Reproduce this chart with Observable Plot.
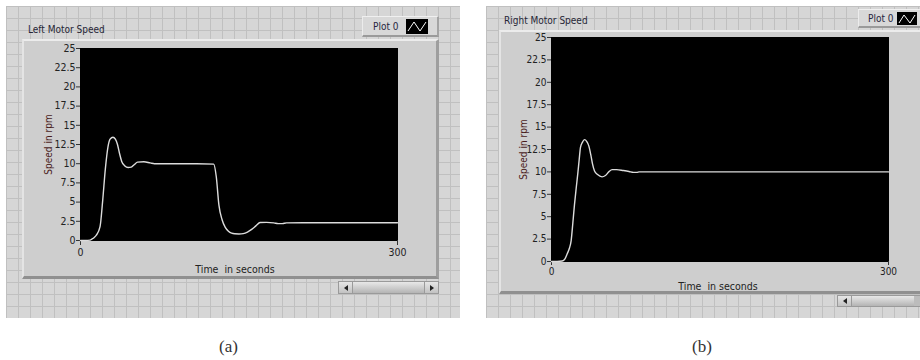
<!DOCTYPE html>
<html>
<head>
<meta charset="utf-8">
<script src="https://cdn.jsdelivr.net/npm/d3@7"></script>
<script src="https://cdn.jsdelivr.net/npm/@observablehq/plot@0.6"></script>
<style>
  html, body { margin: 0; padding: 0; background: #fff; }
  #root { position: relative; width: 920px; height: 360px; overflow: hidden;
          font-family: "DejaVu Sans Condensed", "Liberation Sans", sans-serif; }
  .grid { position: absolute; background-color: #d6d6d6;
          background-image: linear-gradient(to right, #c0c0c0 1px, transparent 1px),
                            linear-gradient(to bottom, #c0c0c0 1px, transparent 1px);
          background-size: 12px 12px; }
  .panel { position: absolute; box-sizing: border-box; background: #cecece;
           border-top: 2px solid #ececec; border-left: 2px solid #e4e4e4;
           border-bottom: 3px solid #909090; border-right: 3px solid #9e9e9e; }
  .title { position: absolute; font-size: 10px; color: #262636; white-space: nowrap; line-height: 1; }
  .legend { position: absolute; box-sizing: border-box; background: #d8d8d8;
            border-top: 1px solid #f0f0f0; border-left: 1px solid #ececec;
            border-bottom: 2px solid #9a9a9a; border-right: 2px solid #a4a4a4; }
  .legend span { position: absolute; font-size: 10px; color: #262640; line-height: 1; white-space: nowrap; }
  .legend svg { position: absolute; }
  .scroll { position: absolute; box-sizing: border-box; background: #bcbcbc; border: 1px solid #9a9a9a; }
  .scroll .btn { position: absolute; top: 0; bottom: 0; width: 13px; background: linear-gradient(#e6e6e6, #c2c2c2);
                 border-right: 1px solid #9a9a9a; }
  .scroll .btn.r { right: 0; border-right: none; border-left: 1px solid #9a9a9a; }
  .scroll .thumb { position: absolute; top: 0; bottom: 0; background: linear-gradient(#e8e8e8, #b4b4b4); }
  .tri { position: absolute; top: 50%; left: 50%; width: 0; height: 0; margin-top: -3px; border-top: 3px solid transparent; border-bottom: 3px solid transparent; }
  .tri.l { border-right: 4px solid #222; margin-left: -2px; }
  .tri.r { border-left: 4px solid #222; margin-left: -2px; }
  .cap { position: absolute; font-family: "Liberation Serif", "DejaVu Serif", serif; font-size: 17px; color: #333; line-height: 1; }
  .plot { position: absolute; }
</style>
</head>
<body>
<div id="root">
  <!-- left panel chrome -->
  <div class="grid" style="left:6px;top:6px;width:454px;height:312px;"></div>
  <div class="panel" style="left:22px;top:39px;width:417px;height:240px;"></div>
  <div class="title" style="left:28px;top:25px;">Left Motor Speed</div>
  <div class="legend" style="left:362px;top:16px;width:77px;height:21px;">
    <span style="left:10px;top:5px;">Plot 0</span>
    <svg style="left:43px;top:2px;" width="22" height="15"><rect width="22" height="15" fill="#000"/><path d="M2,12 L8,3 L14,12 L20,3" stroke="#fff" fill="none" stroke-width="1"/></svg>
  </div>
  <div class="scroll" style="left:338px;top:281px;width:101px;height:13px;">
    <div class="btn" style="left:0"><div class="tri l"></div></div>
    <div class="thumb" style="left:14px;width:73px;"></div>
    <div class="btn r"><div class="tri r"></div></div>
  </div>
  <div class="cap" style="left:219px;top:338px;">(a)</div>

  <!-- right panel chrome -->
  <div class="grid" style="left:486px;top:6px;width:434px;height:312px;"></div>
  <div class="panel" style="left:499px;top:30px;width:424px;height:264px;"></div>
  <div class="title" style="left:504px;top:16px;">Right Motor Speed</div>
  <div class="legend" style="left:858px;top:9px;width:66px;height:19px;">
    <span style="left:9px;top:4px;">Plot 0</span>
    <svg style="left:38px;top:2px;" width="20" height="13"><rect width="20" height="13" fill="#000"/><path d="M2,11 L7,3 L13,11 L18,3" stroke="#fff" fill="none" stroke-width="1"/></svg>
  </div>
  <div class="scroll" style="left:837px;top:295px;width:90px;height:12px;">
    <div class="btn" style="left:0"><div class="tri l"></div></div>
    <div class="thumb" style="left:14px;width:62px;"></div>
  </div>
  <div class="cap" style="left:692px;top:338px;">(b)</div>

  <div id="plotL" class="plot" style="left:22px;top:39px;"></div>
  <div id="plotR" class="plot" style="left:499px;top:30px;"></div>
</div>

<script>
// ---- data ----
const leftTime  = [0, 5, 9, 11, 13, 15, 18.5, 21, 23.5, 26, 28, 30.7, 33, 35, 37, 39, 42, 45, 48, 51, 54, 60, 66, 70, 90, 110, 126, 128.5, 131, 134, 137, 140, 143, 146, 150, 154, 158, 162, 166, 170, 176, 183, 187, 191, 195, 220, 260, 300];
const leftSpeed = [0, 0, 0.05, 0.2, 0.4, 0.7, 1.8, 5.2, 9.3, 12.2, 13.2, 13.45, 13.2, 12.5, 11.3, 10.3, 9.7, 9.5, 9.55, 9.9, 10.2, 10.25, 10.1, 10.0, 10.0, 10.0, 9.95, 8.3, 4.6, 2.7, 1.7, 1.2, 0.95, 0.87, 0.85, 0.9, 1.1, 1.45, 1.9, 2.34, 2.36, 2.3, 2.2, 2.2, 2.3, 2.32, 2.32, 2.32];

const rightTime  = [0, 5, 9.5, 12, 14, 16, 17.5, 19, 20.5, 22, 23.4, 24.6, 25.8, 27.5, 29.4, 31.3, 33.2, 35, 36.5, 38.3, 41, 45, 48, 51, 54, 58, 64, 69, 73, 76, 78, 90, 150, 220, 300];
const rightSpeed = [0, 0, 0.05, 0.3, 0.86, 1.5, 2.34, 4.3, 6.4, 8.2, 9.8, 11.3, 12.75, 13.3, 13.6, 13.4, 12.9, 11.9, 10.9, 10.1, 9.7, 9.45, 9.6, 10.0, 10.25, 10.25, 10.15, 10.05, 9.95, 9.95, 10.0, 10.0, 10.0, 10.0, 10.0];

const yTicks = [0, 2.5, 5, 7.5, 10, 12.5, 15, 17.5, 20, 22.5, 25];
const xTicks = [0, 300];
const xLabel = "Time\u00a0 in seconds";
const yLabel = "Speed in rpm";

const FONT = '"DejaVu Sans Condensed", "Liberation Sans", sans-serif';

function makePlot(time, speed, o) {
  const data = time.map((t, i) => ({t, v: speed[i]}));
  return Plot.plot({
    width: o.width, height: o.height,
    marginLeft: o.ml, marginRight: o.mr, marginTop: o.mt, marginBottom: o.mb,
    style: {background: "transparent", color: "#222", fontFamily: FONT, fontSize: o.fs + "px", overflow: "visible"},
    x: {domain: [0, 300]},
    y: {domain: [0, 25]},
    marks: [
      Plot.frame({fill: "#000", stroke: "#000"}),
      Plot.axisY({ticks: yTicks, tickSize: 4, tickPadding: 1, label: null, tickFormat: d => String(d), stroke: "#333"}),
      Plot.axisX({ticks: xTicks, tickSize: o.xts, tickPadding: o.xtp, label: null, tickFormat: d => String(d), stroke: "#333"}),
      Plot.line(data, {x: "t", y: "v", stroke: "#dcdcdc", strokeWidth: 1.4, curve: "monotone-x"}),
      Plot.text([xLabel], {text: d => d, frameAnchor: "bottom", dy: o.xldy, dx: o.xldx, fill: "#222", fontSize: 10.5}),
      Plot.text([yLabel], {text: d => d, frameAnchor: "left", textAnchor: "middle", lineAnchor: "middle", dx: o.yldx, rotate: -90, fill: "#4a1c1c", fontSize: 10})
    ]
  });
}

document.getElementById("plotL").append(makePlot(leftTime, leftSpeed, {
  width: 417, height: 239, ml: 58, mr: 42, mt: 9, mb: 38, fs: 10.5,
  xts: 5, xtp: 3, xldy: 32, xldx: -4, yldx: -32
}));
document.getElementById("plotR").append(makePlot(rightTime, rightSpeed, {
  width: 421, height: 263, ml: 52, mr: 32, mt: 7, mb: 32, fs: 10,
  xts: 4, xtp: 2, xldy: 28, xldx: -2, yldx: -28
}));
</script>
</body>
</html>
